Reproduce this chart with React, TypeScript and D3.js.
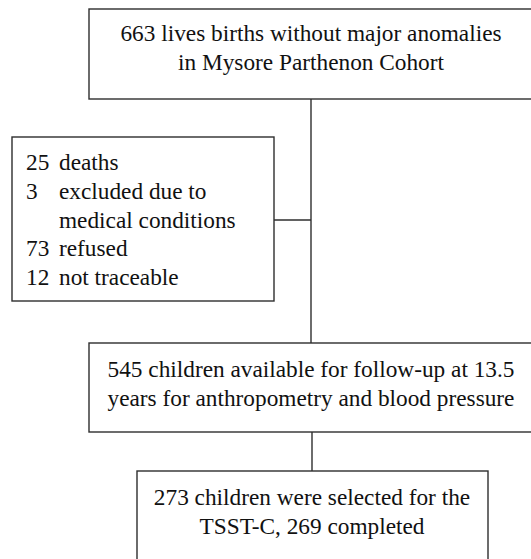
import * as d3 from "d3";

const topLines = ["663 lives births without major anomalies", "in Mysore Parthenon Cohort"];
const excludedCounts = ["25", "3", "", "73", "12"];
const excludedLabels = ["deaths", "excluded due to", "medical conditions", "refused", "not traceable"];
const midLines = ["545 children available for follow-up at 13.5", "years for anthropometry and blood pressure"];
const bottomLines = ["273 children were selected for the", "TSST-C, 269 completed"];

const W = 531;
const H = 559;
const FONT = '"Liberation Serif"';
const FS = 23.3;
const LH = 28.8;
const STROKE = "#2e2e2e";

const line = d3.line<[number, number]>();

// text rows stacked from a first baseline
const rowY = (y0: number) => d3.scaleLinear().domain([0, 1]).range([y0, y0 + LH]);

function Box({ x, y, w, h }: { x: number; y: number; w: number; h: number }) {
  return <rect x={x} y={y} width={w} height={h} fill="white" stroke={STROKE} strokeWidth={1.4} />;
}

function Lines({ lines, x, y0, anchor = "middle" }: { lines: string[]; x: number; y0: number; anchor?: string }) {
  const y = rowY(y0);
  return (
    <g>
      {lines.map((t, i) => (
        <text key={i} x={x} y={y(i)} textAnchor={anchor} fill="#111"
          style={{ fontFamily: FONT, fontSize: FS }}>{t}</text>
      ))}
    </g>
  );
}

export default function App() {
  const cx = 311;
  return (
    <svg width={W} height={H} style={{ position: "absolute", left: 0, top: 0, background: "white" }}>
      <path d={line([[cx, 99], [cx, 343]]) ?? ""} stroke={STROKE} strokeWidth={1.4} fill="none" />
      <path d={line([[274, 220], [cx, 220]]) ?? ""} stroke={STROKE} strokeWidth={1.4} fill="none" />
      <path d={line([[312, 432], [312, 471]]) ?? ""} stroke={STROKE} strokeWidth={1.4} fill="none" />

      <Box x={89} y={9} w={446} h={90} />
      <Lines lines={topLines} x={cx} y0={41} />

      <Box x={12} y={137} w={262} h={164} />
      <Lines lines={excludedCounts} x={26} y0={170} anchor="start" />
      <Lines lines={excludedLabels} x={59} y0={170} anchor="start" />

      <Box x={89} y={343} w={446} h={89} />
      <Lines lines={midLines} x={cx} y0={377} />

      <Box x={137} y={471} w={351} h={100} />
      <Lines lines={bottomLines} x={312} y0={505} />
    </svg>
  );
}
